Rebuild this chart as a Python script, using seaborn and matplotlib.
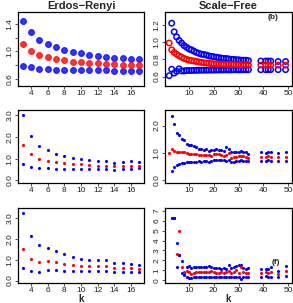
import numpy as np
import pandas as pd
import matplotlib
matplotlib.use("Agg")
import matplotlib.pyplot as plt
import seaborn as sns

nan = np.nan

# ---------------- data ----------------
er_k = list(range(3, 18))
sf_k = list(range(2, 35)) + [39, 41, 42, 43, 46, 49]

# row 1 (CI)
er_r1_hi = [1.44, 1.28, 1.17, 1.11, 1.06, 1.02, 0.99, 0.975, 0.95, 0.93, 0.92, 0.91, 0.905, 0.895, 0.89]
er_r1_mid = [1.11, 1.01, 0.95, 0.92, 0.89, 0.87, 0.85, 0.845, 0.835, 0.83, 0.82, 0.815, 0.81, 0.805, 0.80]
er_r1_lo = [0.79, 0.77, 0.745, 0.74, 0.737, 0.73, 0.73, 0.725, 0.725, 0.725, 0.725, 0.72, 0.72, 0.72, 0.72]

sf_r1_hi = [nan, 1.22, 1.12, 1.06, 1.02, 0.99, 0.96, 0.94, 0.92, 0.91, 0.895, 0.88, 0.87, 0.86, 0.855,
            0.85, 0.84, 0.835, 0.83, 0.825, 0.82, 0.815, 0.81, 0.81, 0.805, 0.80, 0.80, 0.795, 0.795,
            0.79, 0.79, 0.79, 0.785, 0.78, 0.78, 0.78, 0.78, 0.775, 0.775]
sf_r1_mid = [0.99, 0.91, 0.88, 0.86, 0.84, 0.825, 0.81, 0.80, 0.79, 0.785, 0.78, 0.775, 0.77, 0.765, 0.76,
             0.757, 0.755, 0.75, 0.748, 0.746, 0.745, 0.744, 0.743, 0.742, 0.741, 0.740, 0.739, 0.738,
             0.737, 0.737, 0.736, 0.736, 0.735, 0.734, 0.734, 0.733, 0.733, 0.733, 0.733]
sf_r1_lo = [0.61, 0.685, 0.64, 0.66, 0.69, 0.665, 0.665, 0.67, 0.67, 0.67, 0.672, 0.672, 0.673, 0.673, 0.674,
            0.674, 0.675, 0.675, 0.675, 0.676, 0.676, 0.676, 0.677, 0.677, 0.677, 0.677, 0.678, 0.678,
            0.678, 0.678, 0.678, 0.679, 0.679, 0.679, 0.679, 0.68, 0.68, 0.68, 0.68]

# row 2
er_r2_hi = [3.0, 2.03, 1.6, 1.38, 1.23, 1.1, 1.05, 0.98, 0.95, 0.9, 0.87, 0.8, 0.83, 0.87, 0.85]
er_r2_mid = [1.62, 1.23, 1.0, 0.91, 0.85, 0.79, 0.76, 0.73, 0.71, 0.68, 0.68, 0.64, 0.67, 0.68, 0.67]
er_r2_lo = [0.73, 0.62, 0.55, 0.55, 0.53, 0.53, 0.53, 0.52, 0.52, 0.52, 0.52, 0.48, 0.5, 0.53, 0.55]

sf_r2_hi = [nan, 2.36, 2.07, 1.74, 1.64, 1.5, 1.46, 1.34, 1.30, 1.28, 1.24, 1.2, 1.16, 1.14, 1.12,
            1.14, 1.08, 1.12, 1.12, 1.15, 1.12, 1.1, 1.08, 1.22, 1.14, 1.02, 1.02, 1.02, 1.05,
            1.07, 1.02, 1.05, 0.97, 1.02, 0.99, 1.04, 1.04, 0.99, 1.02]
sf_r2_mid = [0.98, 1.16, 1.08, 1.05, 1.04, 1.02, 1.02, 1.0, 0.96, 0.96, 0.96, 0.95, 0.94, 0.92, 0.94,
             0.92, 0.94, 0.9, 0.96, 0.96, 0.95, 0.92, 0.9, 0.92, 1.0, 0.8, 0.84, 0.84, 0.9,
             0.88, 0.88, 0.86, 0.83, 0.86, 0.86, 0.88, 0.86, 0.86, 0.86]
sf_r2_lo = [nan, 0.34, 0.5, 0.57, 0.6, 0.62, 0.63, 0.66, 0.66, 0.66, 0.67, 0.68, 0.7, 0.68, 0.71,
            0.72, 0.68, 0.72, 0.75, 0.75, 0.74, 0.73, 0.73, 0.71, 0.75, 0.66, 0.68, 0.71, 0.72,
            0.73, 0.72, 0.72, 0.7, 0.72, 0.72, 0.74, 0.72, 0.72, 0.72]

# row 3
er_r3_hi = [3.26, 2.16, 1.69, 1.56, 1.44, 1.26, 1.13, 1.06, 1.0, 0.98, 0.98, 0.84, 0.84, 0.82, 0.77]
er_r3_mid = [1.5, 1.06, 0.9, 0.94, 0.89, 0.79, 0.73, 0.71, 0.69, 0.69, 0.69, 0.6, 0.61, 0.61, 0.55]
er_r3_lo = [0.58, 0.45, 0.39, 0.52, 0.52, 0.48, 0.45, 0.46, 0.46, 0.46, 0.46, 0.42, 0.42, 0.43, 0.4]

sf_r3_hi = [nan, 6.3, 6.3, 3.8, 2.5, 1.9, 0.75, 1.3, 1.4, 1.2, 1.3, 1.3, 1.3, 1.3, 1.35,
            1.3, 1.4, 1.3, 1.2, 1.2, 1.25, 1.15, 1.2, 1.1, 1.5, 1.2, 1.35, 1.45, 1.5,
            1.55, 1.2, 1.15, 1.2, 1.15, 1.1, 1.15, 1.3, 0.9, 1.4]
sf_r3_mid = [nan, nan, nan, 2.6, 5.0, 1.3, 0.85, 0.9, 0.85, 0.65, 0.75, 0.8, 0.8, 0.8, 0.85,
             0.8, 0.85, 0.9, 0.8, 0.75, 0.75, 0.8, 0.75, 0.8, 0.95, 0.7, 0.85, 1.0, 0.75,
             1.3, 0.85, 0.75, 0.7, 0.75, 0.8, 0.75, 0.8, 0.6, 0.9]
sf_r3_lo = [nan, 6.3, 6.3, 1.3, 2.5, 0.7, 0.55, 0.3, 0.25, 0.25, 0.3, 0.3, 0.3, 0.3, 0.3,
            0.3, 0.35, 0.3, 0.3, 0.3, 0.3, 0.3, 0.3, 0.35, 0.3, 0.3, 0.35, 0.3, 0.35,
            0.1, 0.3, 0.35, 0.35, 0.35, 0.4, 0.3, 0.35, 0.35, 0.4]

row_labels = ["CI", "BI", "EI"]
titles = ["Erdos\u2212Renyi", "Scale\u2212Free"]

# ---------------- style ----------------
sns.set_theme(style="white")
plt.rcParams["font.family"] = ["Liberation Sans", "DejaVu Sans"]
plt.rcParams["font.size"] = 6
plt.rcParams["axes.linewidth"] = 0.9

BLUE = "#0000ff"
RED = "#ff0000"

fig = plt.figure(figsize=(2.93, 3.03), dpi=100)
W, H = 293.0, 303.0
cols = [(18, 144), (165, 292)]
rows = [(12, 86), (110, 183), (208, 283)]


def make_ax(c, r):
    x0, x1 = cols[c]
    y0, y1 = rows[r]
    return fig.add_axes([x0 / W, 1 - y1 / H, (x1 - x0) / W, (y1 - y0) / H])


def to_frame(k, hi, mid, lo):
    df = pd.DataFrame({"k": k, "hi": hi, "mid": mid, "lo": lo})
    return df.melt(id_vars="k", var_name="s", value_name="v").dropna()


def draw(ax, k, hi, mid, lo, kind):
    df = to_frame(k, hi, mid, lo)
    pal = {"hi": BLUE, "lo": BLUE, "mid": RED}
    for s in ["hi", "lo", "mid"]:
        sub = df[df["s"] == s]
        if kind == "big":
            sns.scatterplot(data=sub, x="k", y="v", color=pal[s], s=18, linewidth=0.7,
                            edgecolor=pal[s], alpha=0.8, ax=ax, legend=False)
        elif kind == "ring":
            sns.scatterplot(data=sub, x="k", y="v", s=15, facecolors="none",
                            edgecolor=pal[s], linewidth=1.1, ax=ax, legend=False)
        else:
            sns.scatterplot(data=sub, x="k", y="v", color=pal[s], s=5, linewidth=0,
                            marker="o", ax=ax, legend=False)


def style(ax, yticks, ylabels, ylim, xlim, xticks):
    ax.set_xlim(*xlim)
    ax.set_ylim(*ylim)
    ax.set_xticks(xticks)
    ax.set_yticks(yticks)
    ax.set_yticklabels(ylabels)
    ax.set_xlabel("")
    ax.set_ylabel("")
    ax.tick_params(direction="out", length=2, width=0.6, pad=1.0, colors="#333333",
                   labelsize=6, left=True, bottom=True)
    ax.tick_params(axis="both", labelcolor="#222222")
    plt.setp(ax.get_yticklabels(), rotation=90, va="center")
    for sp in ax.spines.values():
        sp.set_color("black")
        sp.set_visible(True)


er_xlim = (2.44, 17.56)
sf_xlim = (0.3, 51.6)
er_xt = [4, 6, 8, 10, 12, 14, 16]
sf_xt = [10, 20, 30, 40, 50]

# row 1
ax = make_ax(0, 0)
draw(ax, er_k, er_r1_hi, er_r1_mid, er_r1_lo, "big")
style(ax, [0.6, 0.8, 1.0, 1.2, 1.4], ["0.6", "", "1.0", "", "1.4"], (0.5, 1.57), er_xlim, er_xt)
ax.set_title(titles[0], fontsize=8, fontweight="bold", pad=2)

ax = make_ax(1, 0)
draw(ax, sf_k, sf_r1_hi, sf_r1_mid, sf_r1_lo, "ring")
style(ax, [0.6, 0.8, 1.0, 1.2], ["0.6", "0.8", "1.0", "1.2"], (0.49, 1.35), sf_xlim, sf_xt)
ax.set_title(titles[1], fontsize=8, fontweight="bold", pad=2)
ax.text(0.85, 0.93, "(b)", transform=ax.transAxes, fontsize=6, fontweight="bold",
        ha="center", va="center")

# row 2
ax = make_ax(0, 1)
draw(ax, er_k, er_r2_hi, er_r2_mid, er_r2_lo, "small")
style(ax, [0, 1, 2, 3], ["0.0", "1.0", "2.0", "3.0"], (-0.12, 3.23), er_xlim, er_xt)

ax = make_ax(1, 1)
draw(ax, sf_k, sf_r2_hi, sf_r2_mid, sf_r2_lo, "small")
style(ax, [0, 1, 2], ["0.0", "1.0", "2.0"], (-0.1, 2.57), sf_xlim, sf_xt)

# row 3
ax = make_ax(0, 2)
draw(ax, er_k, er_r3_hi, er_r3_mid, er_r3_lo, "small")
style(ax, [0, 1, 2, 3], ["0.0", "1.0", "2.0", "3.0"], (-0.12, 3.5), er_xlim, er_xt)

ax = make_ax(1, 2)
draw(ax, sf_k, sf_r3_hi, sf_r3_mid, sf_r3_lo, "small")
style(ax, list(range(8)), [str(i) for i in range(8)], (-0.27, 7.27), sf_xlim, sf_xt)
ax.text(0.87, 0.28, "(f)", transform=ax.transAxes, fontsize=6, fontweight="bold",
        ha="center", va="center")

# x labels "k" under the bottom row
for c in range(2):
    x0, x1 = cols[c]
    fig.text((x0 + x1) / 2 / W, 1 - 298.5 / H, "k", fontsize=7, fontweight="bold",
             ha="center", va="center")

# row labels, mostly cut off by the left edge as in the original
for r, lab in enumerate(row_labels):
    y0, y1 = rows[r]
    fig.text(-0.012, 1 - (y0 + y1) / 2 / H, lab, rotation=90, fontsize=8,
             ha="center", va="center")

fig.savefig("out.png", dpi=100)
